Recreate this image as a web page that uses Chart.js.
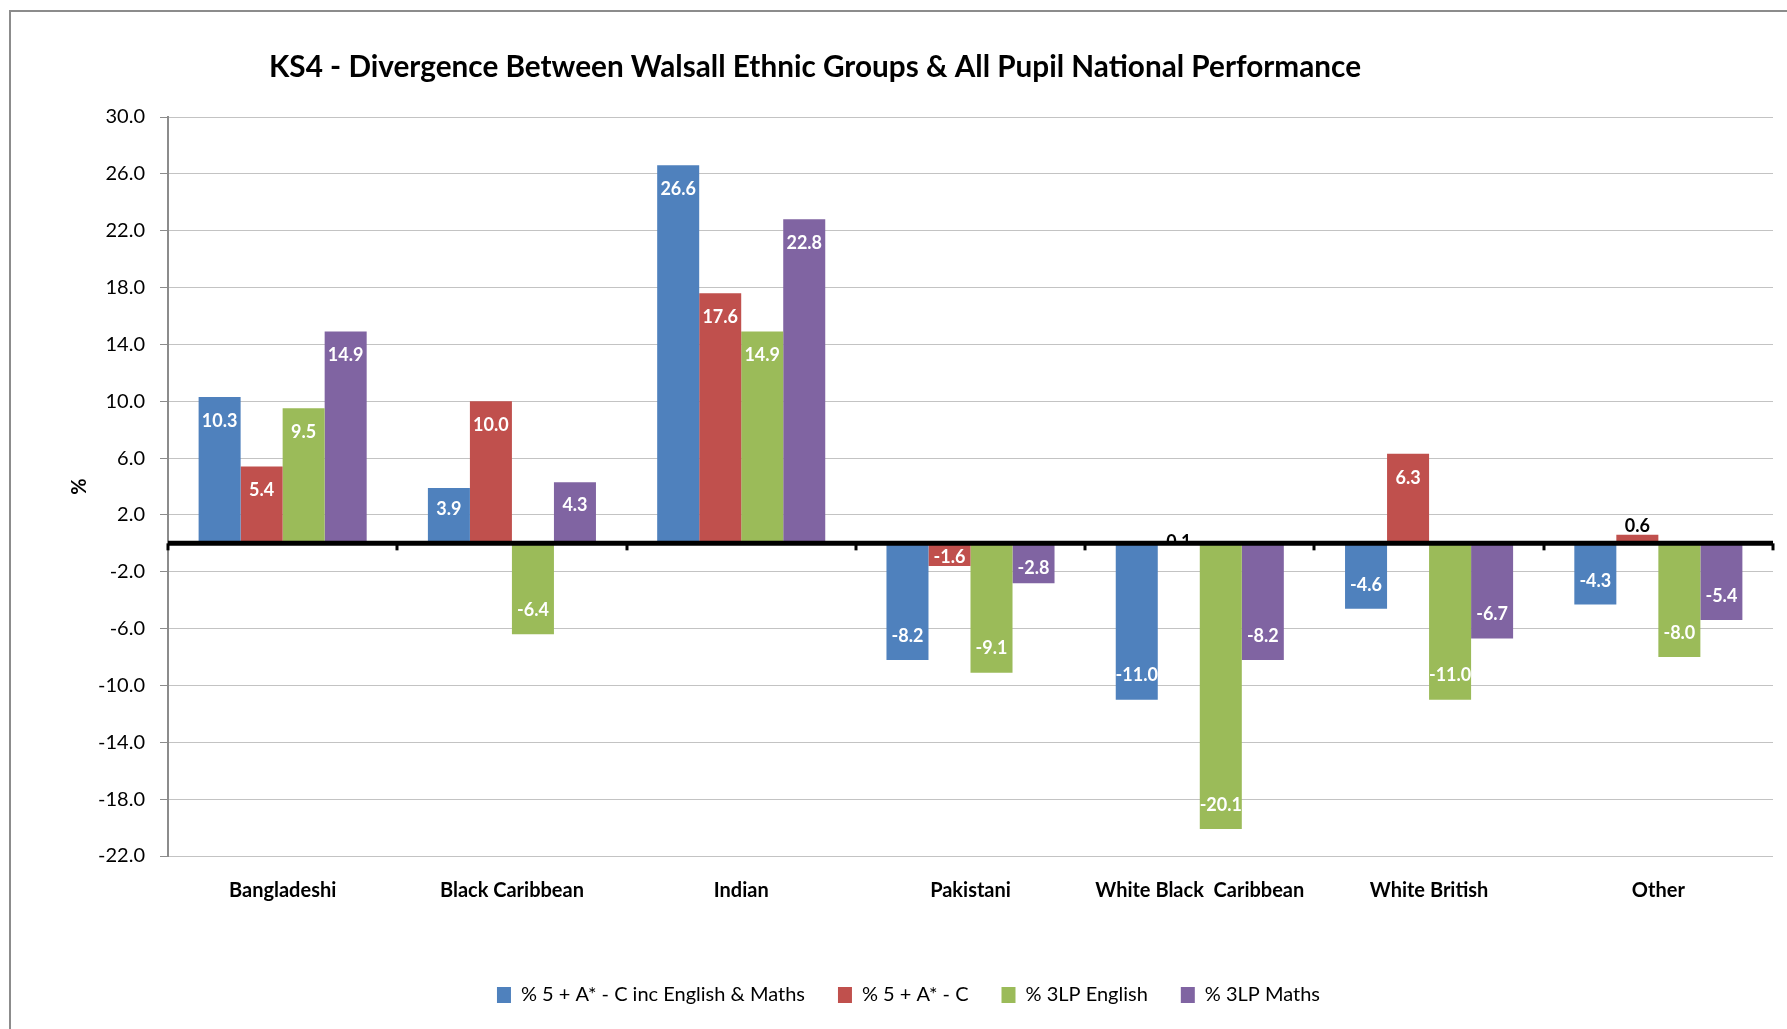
<!DOCTYPE html>
<html>
<head>
<meta charset="utf-8">
<title>KS4 - Divergence Between Walsall Ethnic Groups & All Pupil National Performance</title>
<script src="https://cdn.jsdelivr.net/npm/chart.js@4.4.0/dist/chart.umd.min.js"></script>
<style>
    html, body { margin: 0; padding: 0; background: #fff; }
    canvas { display: block; }
</style>
</head>
<body>
<canvas id="divergence-chart" width="1787" height="1029"></canvas>
<script>
// chart data
const categories = ["Bangladeshi", "Black Caribbean", "Indian", "Pakistani", "White Black  Caribbean", "White British", "Other"];
const seriesNames = ["% 5 + A* - C inc English & Maths", "% 5 + A* - C", "% 3LP English", "% 3LP Maths"];
const incEngMaths = [10.3, 3.9, 26.6, -8.2, -11.0, -4.6, -4.3];
const fiveAC = [5.4, 10.0, 17.6, -1.6, 0.1, 6.3, 0.6];
const english3LP = [9.5, -6.4, 14.9, -9.1, -20.1, -11.0, -8.0];
const maths3LP = [14.9, 4.3, 22.8, -2.8, -8.2, -6.7, -5.4];
const yTicks = [-22, -18, -14, -10, -6, -2, 2, 6, 10, 14, 18, 22, 26, 30];

const titleText = "KS4 - Divergence Between Walsall Ethnic Groups & All Pupil National Performance";
const colors = ["#4f81bd", "#c0504d", "#9bbb59", "#8064a2"];
const FONT = "Lato, 'Open Sans', sans-serif";

// outer frame + squeezed title (original looks like a condensed font)
const framePlugin = {
    id: "frame",
    beforeDraw(chart) {
        let c = chart.ctx;
        c.save();
        c.fillStyle = "#fff";
        c.fillRect(0, 0, chart.width, chart.height);
        c.strokeStyle = "#8c8c8c";
        c.lineWidth = 2;
        c.beginPath();
        c.moveTo(10, chart.height);
        c.lineTo(10, 11);
        c.lineTo(chart.width, 11);
        c.stroke();
        c.restore();
    },
    afterDraw(chart) {
        let c = chart.ctx;
        c.save();
        c.font = "bold 30px " + FONT;
        c.fillStyle = "#000";
        c.textAlign = "center";
        c.textBaseline = "alphabetic";
        let w = c.measureText(titleText).width;
        c.translate(815, 77);
        c.scale(1092 / w, 1);
        c.fillText(titleText, 0, 0);
        c.restore();
    }
};

// value labels, then the heavy zero line drawn over them
const labelPlugin = {
    id: "barLabels",
    afterDatasetsDraw(chart) {
        let c = chart.ctx;
        let y0 = chart.scales.y.getPixelForValue(0);
        c.save();
        c.font = "bold 18px " + FONT;
        c.textAlign = "center";
        c.textBaseline = "middle";
        chart.data.datasets.forEach((ds, i) => {
            let meta = chart.getDatasetMeta(i);
            meta.data.forEach((bar, j) => {
                let v = ds.data[j];
                let len = Math.abs(bar.base - bar.y);
                let dir = v >= 0 ? 1 : -1;
                if (len < 4) {
                    // practically zero: label is buried under the axis line
                    c.save();
                    c.beginPath();
                    c.rect(bar.x - 40, y0 - 20, 80, 20);
                    c.clip();
                    c.fillStyle = "#000";
                    c.fillText(v.toFixed(1), bar.x, y0 - 1);
                    c.restore();
                } else if (len < 12) {
                    // too short: label sits outside the bar
                    c.fillStyle = "#000";
                    c.fillText(v.toFixed(1), bar.x, bar.y - dir * len);
                } else {
                    c.fillStyle = "#fff";
                    c.fillText(v.toFixed(1), bar.x, bar.y + dir * Math.min(24, 0.38 * len));
                }
            });
        });

        let area = chart.chartArea;
        c.strokeStyle = "#000";
        c.lineWidth = 5;
        c.beginPath();
        c.moveTo(area.left, y0);
        c.lineTo(area.right, y0);
        c.stroke();

        // small tick marks between categories
        let step = (area.right - area.left) / categories.length;
        c.lineWidth = 3;
        for (let k = 0; k <= categories.length; k++) {
            let x = Math.round(area.left + k * step);
            c.beginPath();
            c.moveTo(x, y0);
            c.lineTo(x, y0 + 7);
            c.stroke();
        }
        c.restore();
    }
};

let ctx = document.getElementById("divergence-chart").getContext("2d");

let divergenceChart = new Chart(ctx, {
    type: "bar",
    data: {
        labels: categories,
        datasets: [incEngMaths, fiveAC, english3LP, maths3LP].map((values, i) => ({
            label: seriesNames[i],
            data: values,
            backgroundColor: colors[i],
            borderWidth: 0,
            categoryPercentage: 0.733,
            barPercentage: 1.0,
        })),
    },
    options: {
        responsive: false,
        animation: false,
        devicePixelRatio: 1,
        layout: {
            padding: { left: 44, right: 14, top: 117, bottom: 14 },
        },
        plugins: {
            title: { display: false },
            tooltip: { enabled: false },
            legend: {
                position: "bottom",
                labels: {
                    boxWidth: 14,
                    boxHeight: 16,
                    padding: 33,
                    color: "#000",
                    font: { family: FONT, size: 20 },
                },
            },
        },
        scales: {
            x: {
                grid: { display: false },
                border: { display: false },
                ticks: {
                    color: "#000",
                    font: { family: FONT, size: 20, weight: "bold" },
                    padding: 15,
                    maxRotation: 0,
                    autoSkip: false,
                },
                afterFit: (axis) => { axis.height = 96; },
            },
            y: {
                min: -22,
                max: 30,
                afterBuildTicks: (axis) => {
                    axis.ticks = yTicks.map((v) => ({ value: v }));
                },
                afterFit: (axis) => { axis.width = 124; },
                ticks: {
                    color: "#000",
                    font: { family: FONT, size: 20 },
                    padding: 15,
                    callback: (v) => Number(v).toFixed(1),
                },
                grid: {
                    color: "#c3c3c3",
                    lineWidth: 1,
                    tickLength: 8,
                    tickColor: "#8c8c8c",
                },
                border: { color: "#8c8c8c", width: 2 },
                title: {
                    display: true,
                    text: "%",
                    color: "#000",
                    font: { family: FONT, size: 20, weight: "bold" },
                    padding: { top: 24, bottom: 0 },
                },
            },
        },
    },
    plugins: [framePlugin, labelPlugin],
});
</script>
</body>
</html>
